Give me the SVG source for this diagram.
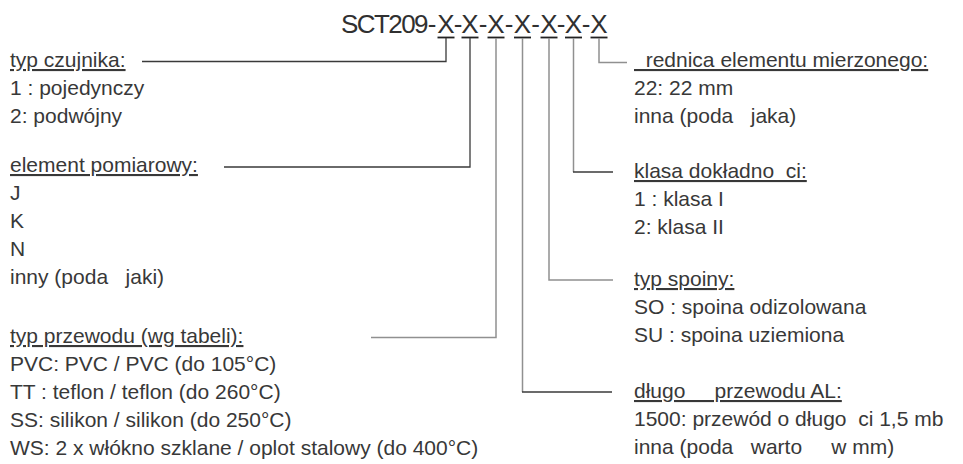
<svg xmlns="http://www.w3.org/2000/svg" width="963" height="464" viewBox="0 0 963 464">
<style>
text{font-family:"Liberation Sans","Arial",sans-serif;fill:#383838;white-space:pre}
.t{font-size:21px}
.h{font-size:21px;text-decoration:underline}
.title{font-size:26px;fill:#303030}
.sq{letter-spacing:-1.6px}
.dk{fill:none;stroke:#3a3a3a;stroke-width:1.3}
.gr{fill:none;stroke:#909090;stroke-width:1.5}
.ul{stroke:#222;stroke-width:1.8}
</style>
<rect width="963" height="464" fill="#fff"/>
<g id="title">
<text class="title" y="33" text-anchor="middle"><tspan class="sq" x="384">SCT209</tspan><tspan x="432">-</tspan><tspan x="446">X</tspan><tspan x="458">-</tspan><tspan x="470">X</tspan><tspan x="483">-</tspan><tspan x="496">X</tspan><tspan x="509">-</tspan><tspan x="522.5">X</tspan><tspan x="535.5">-</tspan><tspan x="549">X</tspan><tspan x="561">-</tspan><tspan x="573.5">X</tspan><tspan x="586">-</tspan><tspan x="599">X</tspan></text>
<line class="ul" x1="437.5" y1="37.5" x2="454.5" y2="37.5"/>
<line class="ul" x1="461.5" y1="37.5" x2="478.5" y2="37.5"/>
<line class="ul" x1="487.5" y1="37.5" x2="504.5" y2="37.5"/>
<line class="ul" x1="514" y1="37.5" x2="531" y2="37.5"/>
<line class="ul" x1="540.5" y1="37.5" x2="557.5" y2="37.5"/>
<line class="ul" x1="565" y1="37.5" x2="582" y2="37.5"/>
<line class="ul" x1="590.5" y1="37.5" x2="607.5" y2="37.5"/>
</g>
<g id="connectors">
<path class="dk" d="M446 38V61.5H142"/>
<path class="dk" d="M470 38V167H224"/>
<path class="gr" d="M496 38V337.5H371"/>
<path class="gr" d="M522.5 38V392"/>
<line class="dk" x1="522" y1="392" x2="612" y2="392"/>
<path class="gr" d="M549 38V280H613"/>
<path class="gr" d="M573.5 38V172"/>
<line class="dk" x1="573" y1="172" x2="613" y2="172"/>
<path class="gr" d="M599 38V62.5H627"/>
</g>
<g id="typ-czujnika">
<text class="h" x="10" y="67">typ czujnika:</text>
<text class="t" x="10" y="95">1 : pojedynczy</text>
<text class="t" x="10" y="123">2: podwójny</text>
</g>
<g id="element-pomiarowy">
<text class="h" x="10" y="172">element pomiarowy:</text>
<text class="t" x="10" y="200">J</text>
<text class="t" x="10" y="228">K</text>
<text class="t" x="10" y="256">N</text>
<text class="t" x="10" y="284">inny (poda   jaki)</text>
</g>
<g id="typ-przewodu">
<text class="h" x="10" y="343">typ przewodu (wg tabeli):</text>
<text class="t" x="10" y="371">PVC: PVC / PVC (do 105°C)</text>
<text class="t" x="10" y="399">TT : teflon / teflon (do 260°C)</text>
<text class="t" x="10" y="427">SS: silikon / silikon (do 250°C)</text>
<text class="t" x="10" y="455">WS: 2 x włókno szklane / oplot stalowy (do 400°C)</text>
</g>
<g id="srednica">
<text class="h" x="634" y="67">  rednica elementu mierzonego:</text>
<text class="t" x="634" y="95">22: 22 mm</text>
<text class="t" x="634" y="123">inna (poda   jaka)</text>
</g>
<g id="klasa">
<text class="h" x="634" y="178">klasa dokładno  ci:</text>
<text class="t" x="634" y="206">1 : klasa I</text>
<text class="t" x="634" y="234">2: klasa II</text>
</g>
<g id="typ-spoiny">
<text class="h" x="634" y="286">typ spoiny:</text>
<text class="t" x="634" y="314">SO : spoina odizolowana</text>
<text class="t" x="634" y="342">SU : spoina uziemiona</text>
</g>
<g id="dlugosc">
<text class="h" x="634" y="398">długo     przewodu AL:</text>
<text class="t" x="634" y="426">1500: przewód o długo  ci 1,5 mb</text>
<text class="t" x="634" y="454">inna (poda   warto     w mm)</text>
</g>
</svg>
